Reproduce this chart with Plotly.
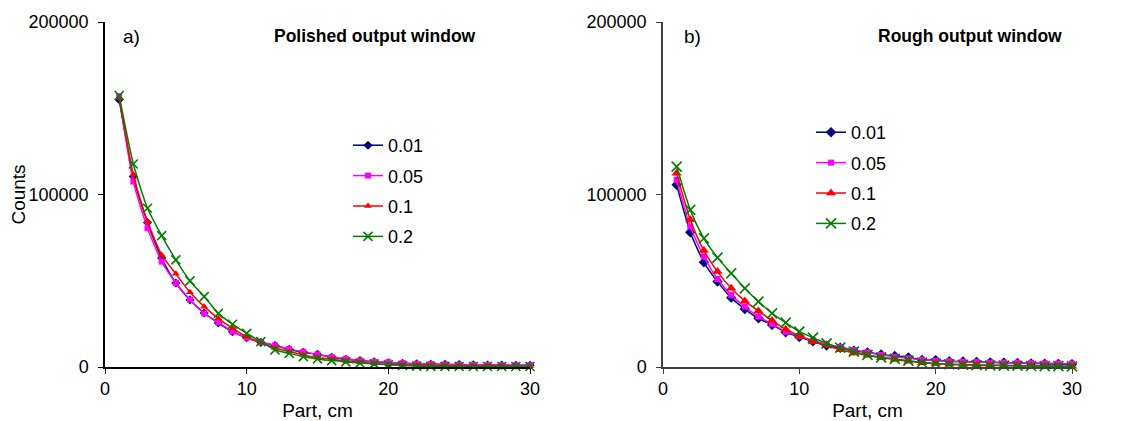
import plotly.graph_objects as go

parts = list(range(1, 31))
series_names = ["0.01", "0.05", "0.1", "0.2"]

# Panel a) Polished output window
pol_001 = [155000, 110500, 83700, 63200, 48700, 38900, 31300, 25500, 20500, 17000,
           14300, 12400, 10200, 8500, 7300, 5600, 4500, 3800, 3000, 2500,
           2200, 1800, 1600, 1500, 1400, 1300, 1200, 1100, 1000, 1000]
pol_005 = [157000, 107500, 80400, 61100, 48700, 39000, 31000, 26000, 20500, 17000,
           14500, 12500, 10500, 8800, 7300, 5800, 4800, 3800, 3000, 2800,
           2300, 1900, 1700, 1500, 1400, 1300, 1200, 1100, 1000, 1000]
pol_01 = [156000, 111400, 84300, 65000, 54000, 43300, 35000, 28200, 22400, 17600,
          14000, 11000, 9000, 7000, 5500, 4500, 3500, 2800, 2000, 1500,
          1200, 1000, 900, 800, 700, 600, 600, 500, 500, 500]
pol_02 = [157400, 117700, 92000, 76200, 62100, 49900, 40800, 31100, 24800, 19500,
          14700, 9900, 7900, 6000, 4700, 3700, 3000, 2300, 1800, 1300,
          900, 500, 400, 400, 300, 300, 300, 300, 300, 300]

# Panel b) Rough output window
rou_001 = [105600, 78100, 60700, 49500, 40200, 33600, 28200, 24400, 20100, 17400,
           14900, 12400, 11200, 9500, 8500, 7300, 6400, 5600, 4100, 4000,
           3400, 3200, 3000, 2700, 2500, 2300, 2100, 1900, 1700, 1600]
rou_005 = [108500, 81400, 64000, 51000, 41800, 35000, 29200, 25000, 20500, 18000,
           15500, 13200, 11500, 9800, 8500, 7000, 6000, 5000, 4200, 3700,
           3300, 3000, 2800, 2600, 2500, 2400, 2300, 2200, 2100, 2000]
rou_01 = [112300, 85300, 67500, 55300, 45600, 38300, 32500, 26900, 21900, 18000,
          14700, 12400, 10000, 8100, 6800, 5300, 4300, 3300, 2400, 2000,
          1600, 1400, 1200, 1000, 900, 800, 700, 600, 500, 500]
rou_02 = [116200, 91100, 74600, 63400, 54300, 45600, 37900, 31100, 25700, 20500,
          17000, 13700, 11200, 8900, 7000, 5600, 4700, 3700, 2600, 2000,
          1600, 1300, 1000, 900, 800, 700, 600, 500, 500, 400]

colors = ["#000080", "#FF00FF", "#FF0000", "#008000"]
symbols = ["diamond", "square", "triangle-up", "x-thin"]
sizes_a = [7, 6, 7, 9]
sizes_b = [8, 6, 9, 10]

FONT = "Liberation Sans, Arial, sans-serif"

fig = go.Figure()

def add_series(data, xa, ya, leg, sizes):
    for name, ys, c, s, sz in zip(series_names, data, colors, symbols, sizes):
        marker = dict(symbol=s, size=sz, color=c)
        if s == "x-thin":
            marker["line"] = dict(color=c, width=1.6)
        fig.add_trace(go.Scatter(
            x=parts, y=ys, name=name, mode="lines+markers",
            line=dict(color=c, width=1.5, shape="spline", smoothing=0.6),
            marker=marker, xaxis=xa, yaxis=ya, legend=leg,
            legendgroup=leg + name, cliponaxis=False))

add_series([pol_001, pol_005, pol_01, pol_02], "x", "y", "legend", sizes_a)
add_series([rou_001, rou_005, rou_01, rou_02], "x2", "y2", "legend2", sizes_b)

# page body margin offsets the figure by 8 px
OFF = 8
W, H = 1141 - OFF, 421 - OFF

def px(sx):
    return (sx - OFF) / W

def py(sy):
    return 1 - (sy - OFF) / H

def xaxis(dom, col):
    return dict(domain=dom, range=[0, 30], tickmode="linear", tick0=0, dtick=10,
                showline=True, linecolor=col, linewidth=1.5, ticks="outside",
                ticklen=5, tickcolor=col, showgrid=False, zeroline=False,
                automargin=False,
                tickfont=dict(family=FONT, size=18, color="black"),
                title=dict(text="Part, cm", font=dict(family=FONT, size=19, color="black"),
                           standoff=7))

def yaxis(anchor, col, title):
    d = dict(domain=[py(367), py(22)], range=[0, 200000], tickmode="linear", tick0=0,
             dtick=100000, tickformat="d", showline=True, linecolor=col, linewidth=1.5,
             ticks="outside", ticklen=5, tickcolor=col, showgrid=False, zeroline=False,
             anchor=anchor, automargin=False, ticklabelstandoff=6,
             tickfont=dict(family=FONT, size=18, color="black"))
    if title:
        d["title"] = dict(text=title, font=dict(family=FONT, size=19, color="black"), standoff=0)
    return d

legfont = dict(family=FONT, size=18, color="black")

fig.update_layout(
    width=W, height=H,
    margin=dict(l=0, r=0, t=0, b=0),
    paper_bgcolor="white", plot_bgcolor="white",
    showlegend=True,
    xaxis=xaxis([px(105), px(530)], "black"),
    yaxis=yaxis("x", "black", "Counts"),
    xaxis2=xaxis([px(663), px(1072)], "#404040"),
    yaxis2=yaxis("x2", "#404040", None),
    legend=dict(x=px(348), y=py(127), xanchor="left", yanchor="top",
                font=legfont, bgcolor="rgba(0,0,0,0)", tracegroupgap=4,
                itemwidth=30, traceorder="grouped"),
    legend2=dict(x=px(811), y=py(114), xanchor="left", yanchor="top",
                 font=legfont, bgcolor="rgba(0,0,0,0)", tracegroupgap=4,
                 itemwidth=30, traceorder="grouped"),
    annotations=[
        dict(text="a)", x=px(121), y=py(37), xref="paper", yref="paper",
             xanchor="left", yanchor="middle", showarrow=False,
             font=dict(family=FONT, size=19, color="black")),
        dict(text="<b>Polished output window</b>", x=px(478), y=py(36),
             xref="paper", yref="paper", xanchor="right", yanchor="middle",
             showarrow=False, font=dict(family=FONT, size=17.5, color="black")),
        dict(text="b)", x=px(682), y=py(37), xref="paper", yref="paper",
             xanchor="left", yanchor="middle", showarrow=False,
             font=dict(family=FONT, size=19, color="black")),
        dict(text="<b>Rough output window</b>", x=px(1064), y=py(36),
             xref="paper", yref="paper", xanchor="right", yanchor="middle",
             showarrow=False, font=dict(family=FONT, size=17.5, color="black")),
    ],
)

fig.write_html("out.html")
